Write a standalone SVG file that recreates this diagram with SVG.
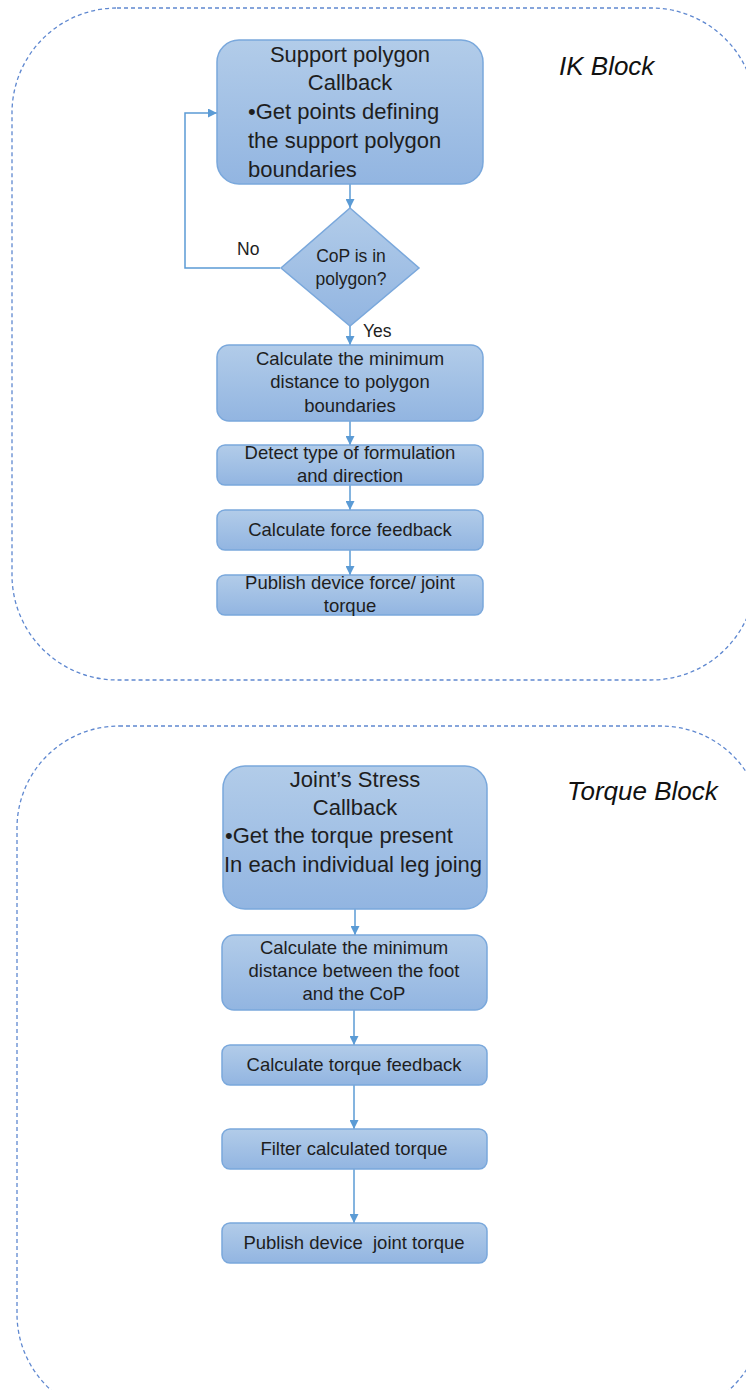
<svg xmlns="http://www.w3.org/2000/svg" width="746" height="1390" viewBox="0 0 746 1390">
<defs>
<linearGradient id="g" x1="0" y1="0" x2="0" y2="1">
<stop offset="0" stop-color="#b2cce9"/>
<stop offset="1" stop-color="#92b5e1"/>
</linearGradient>
<marker id="ah" viewBox="0 0 9 9" refX="9" refY="4.5" markerWidth="9" markerHeight="9" markerUnits="userSpaceOnUse" orient="auto">
<path d="M0,0 L9,4.5 L0,9 z" fill="#5b9bd5"/>
</marker>
<style>
.cont{fill:none;stroke:#5f88d0;stroke-width:1.3;stroke-dasharray:4 3}
.box{fill:url(#g);stroke:#7aa8dc;stroke-width:1.5}
.t{font-family:"Liberation Sans",Arial,sans-serif;fill:#1e1e1e}
.big{font-size:22px}
.sm{font-size:18.5px}
.lbl{font-size:17.5px}
.title{font-family:"Liberation Sans",Arial,sans-serif;font-style:italic;font-size:26px;fill:#111}
.c{text-anchor:middle}
.con{fill:none;stroke:#5b9bd5;stroke-width:1.5}
</style>
</defs>
<rect class="cont" x="12" y="8" width="744" height="672" rx="105"/>
<rect class="cont" x="17" y="726" width="746" height="690" rx="102"/>
<text class="title" x="559" y="75">IK Block</text>
<text class="title" x="567" y="800">Torque Block</text>

<g id="connectors">
<line class="con" x1="350" y1="184" x2="350" y2="208" marker-end="url(#ah)"/>
<line class="con" x1="350" y1="326" x2="350" y2="345" marker-end="url(#ah)"/>
<polyline class="con" points="280,268 185,268 185,113 217,113" marker-end="url(#ah)"/>
<line class="con" x1="350" y1="421" x2="350" y2="445" marker-end="url(#ah)"/>
<line class="con" x1="350" y1="485" x2="350" y2="510" marker-end="url(#ah)"/>
<line class="con" x1="350" y1="550" x2="350" y2="575" marker-end="url(#ah)"/>
<line class="con" x1="355" y1="909" x2="355" y2="935" marker-end="url(#ah)"/>
<line class="con" x1="354" y1="1010" x2="354" y2="1045" marker-end="url(#ah)"/>
<line class="con" x1="354" y1="1085" x2="354" y2="1129" marker-end="url(#ah)"/>
<line class="con" x1="354" y1="1169" x2="354" y2="1223" marker-end="url(#ah)"/>
<text class="t lbl" x="237" y="255">No</text>
<text class="t lbl" x="363" y="337">Yes</text>
</g>

<g id="support-polygon">
<rect class="box" x="217" y="40" width="266" height="144" rx="22"/>
<text class="t big c" x="350" y="62">Support polygon</text>
<text class="t big c" x="350" y="90">Callback</text>
<text class="t big" x="248" y="119">•Get points defining</text>
<text class="t big" x="248" y="148">the support polygon</text>
<text class="t big" x="248" y="177">boundaries</text>
</g>

<g id="cop-decision">
<polygon class="box" points="350,208 419,268 350,326 281,268"/>
<text class="t lbl c" x="351" y="262">CoP is in</text>
<text class="t lbl c" x="351" y="285">polygon?</text>
</g>

<g id="min-distance">
<rect class="box" x="217" y="345" width="266" height="76" rx="12"/>
<text class="t sm c" x="350" y="365">Calculate the minimum</text>
<text class="t sm c" x="350" y="388">distance to polygon</text>
<text class="t sm c" x="350" y="412">boundaries</text>
</g>

<g id="detect-type">
<rect class="box" x="217" y="445" width="266" height="40" rx="8"/>
<text class="t sm c" x="350" y="459">Detect type of formulation</text>
<text class="t sm c" x="350" y="482">and direction</text>
</g>

<g id="force-feedback">
<rect class="box" x="217" y="510" width="266" height="40" rx="8"/>
<text class="t sm c" x="350" y="536">Calculate force feedback</text>
</g>

<g id="publish-force">
<rect class="box" x="217" y="575" width="266" height="40" rx="8"/>
<text class="t sm c" x="350" y="589">Publish device force/ joint</text>
<text class="t sm c" x="350" y="612">torque</text>
</g>

<g id="joint-stress">
<rect class="box" x="223" y="766" width="264" height="143" rx="22"/>
<text class="t big c" x="355" y="787">Joint’s Stress</text>
<text class="t big c" x="355" y="815">Callback</text>
<text class="t big" x="225" y="843">•Get the torque present</text>
<text class="t big" x="224" y="872">In each individual leg joing</text>
</g>

<g id="min-distance-foot">
<rect class="box" x="222" y="935" width="265" height="75" rx="12"/>
<text class="t sm c" x="354" y="954">Calculate the minimum</text>
<text class="t sm c" x="354" y="977">distance between the foot</text>
<text class="t sm c" x="354" y="1000">and the CoP</text>
</g>

<g id="torque-feedback">
<rect class="box" x="222" y="1045" width="265" height="40" rx="8"/>
<text class="t sm c" x="354" y="1071">Calculate torque feedback</text>
</g>

<g id="filter-torque">
<rect class="box" x="222" y="1129" width="265" height="40" rx="8"/>
<text class="t sm c" x="354" y="1155">Filter calculated torque</text>
</g>

<g id="publish-torque">
<rect class="box" x="222" y="1223" width="265" height="40" rx="8"/>
<text class="t sm c" x="354" y="1249" xml:space="preserve">Publish device  joint torque</text>
</g>
</svg>
